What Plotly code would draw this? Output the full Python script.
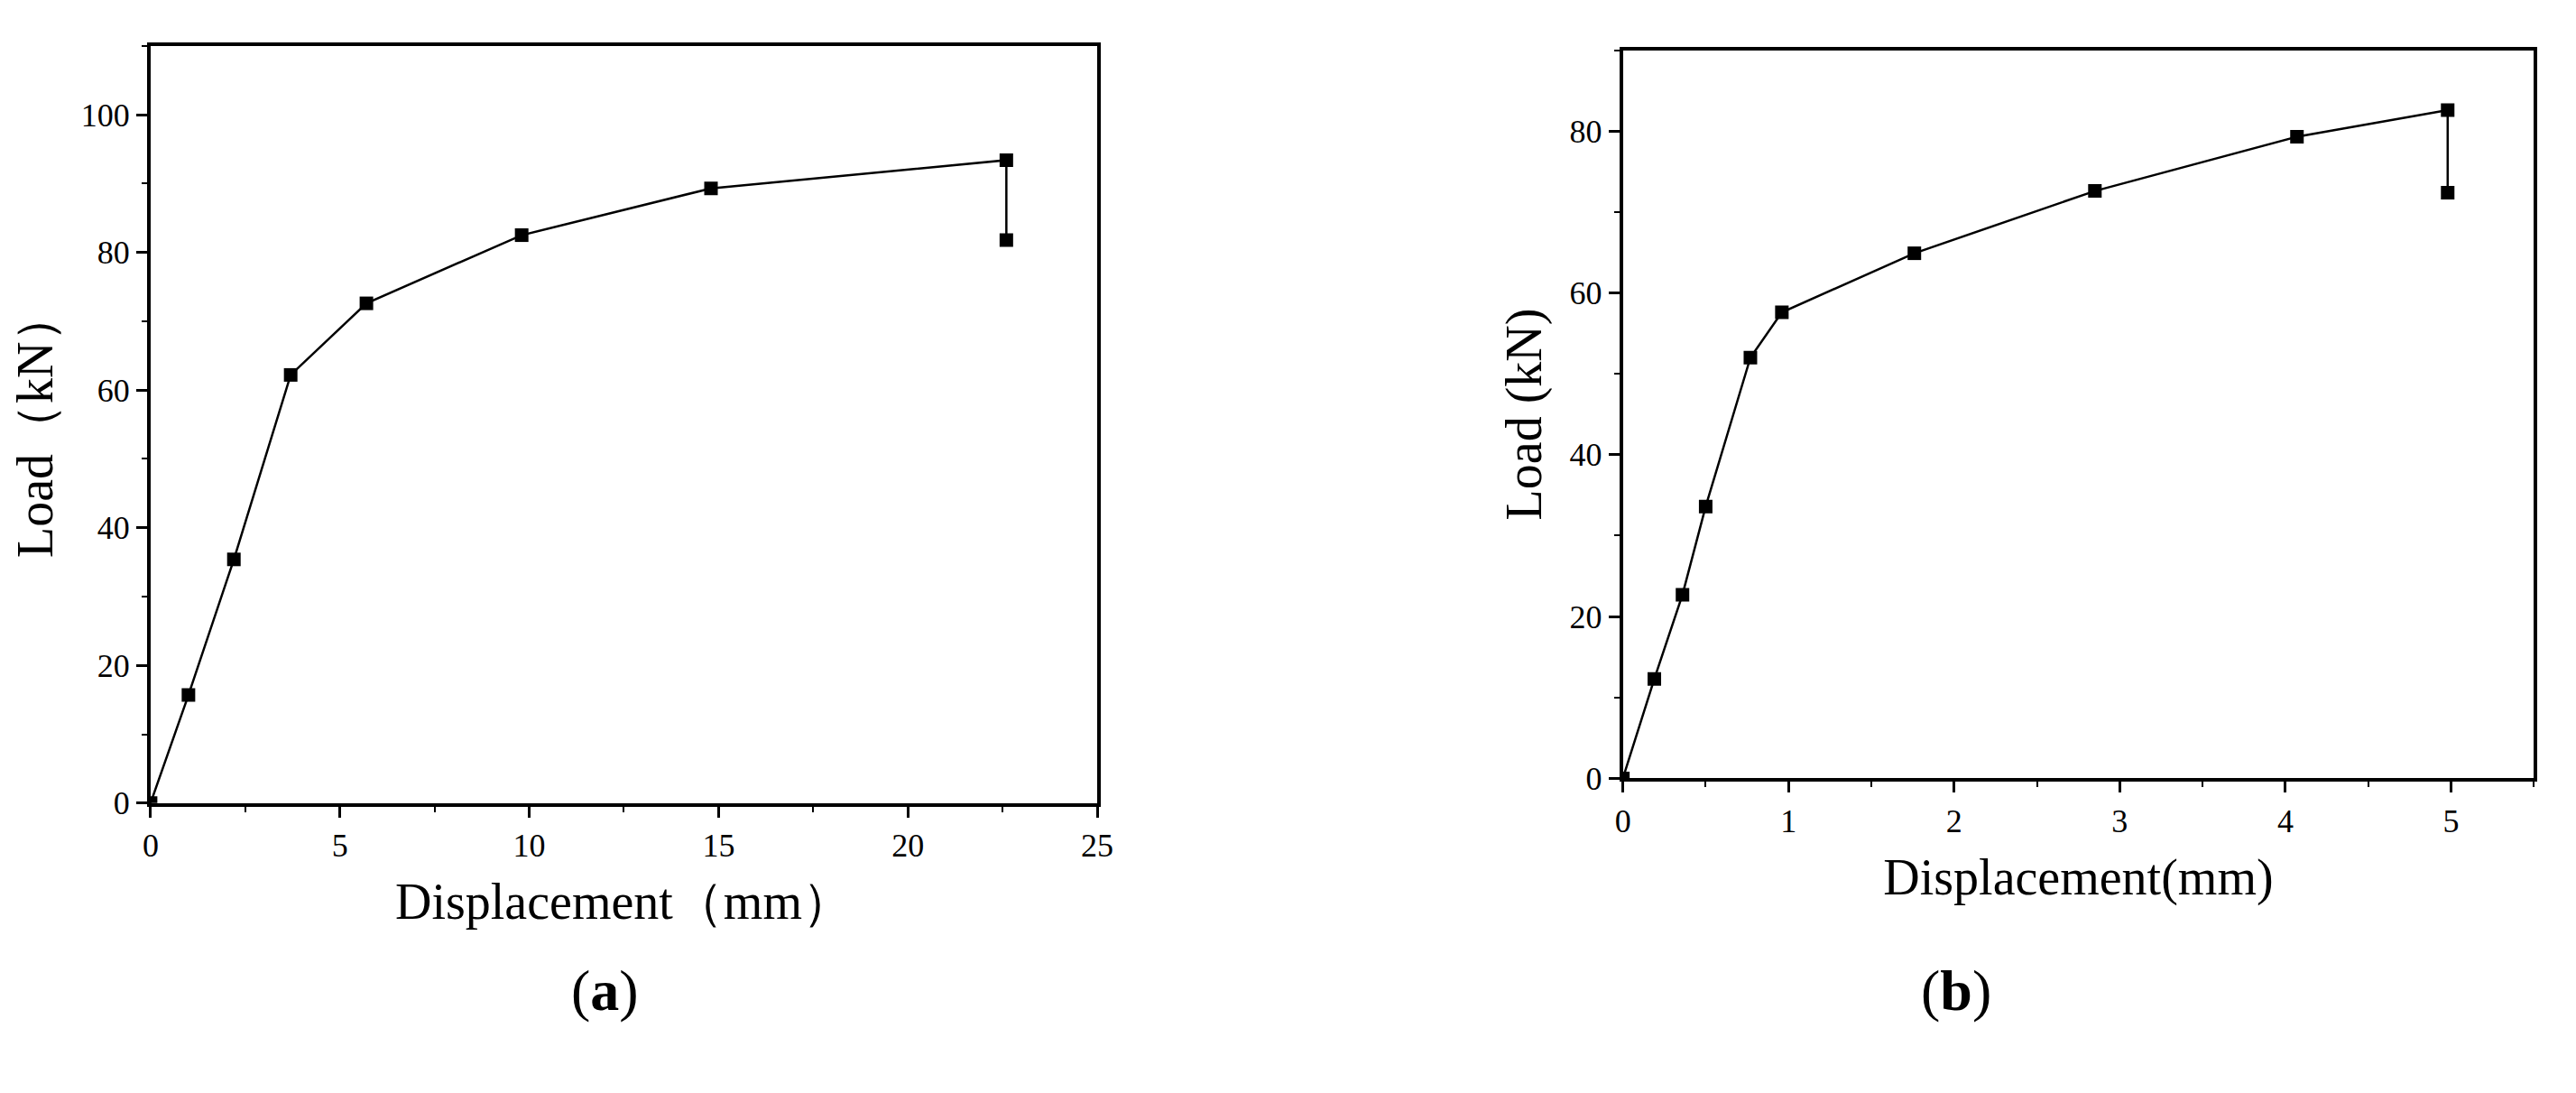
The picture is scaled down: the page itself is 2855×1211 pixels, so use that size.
import plotly.graph_objects as go

# (a) load-displacement
disp_a = [0, 1.0, 2.2, 3.7, 5.7, 9.8, 14.8, 22.6, 22.6]
load_a = [0, 15.7, 35.4, 62.2, 72.6, 82.5, 89.3, 93.4, 81.8]

# (b) load-displacement
disp_b = [0, 0.19, 0.36, 0.50, 0.77, 0.96, 1.76, 2.85, 4.07, 4.98, 4.98]
load_b = [0, 12.3, 22.7, 33.6, 52.0, 57.6, 64.9, 72.6, 79.3, 82.6, 72.4]

FONT = "Liberation Serif"

fig = go.Figure()
fig.add_trace(go.Scatter(x=disp_a, y=load_a, mode="lines+markers", xaxis="x", yaxis="y",
                         line=dict(color="black", width=2.5),
                         marker=dict(symbol="square", size=15, color="black")))
fig.add_trace(go.Scatter(x=disp_b, y=load_b, mode="lines+markers", xaxis="x2", yaxis="y2",
                         line=dict(color="black", width=2.5),
                         marker=dict(symbol="square", size=15, color="black")))

ax = dict(showline=True, linecolor="black", linewidth=4, mirror=True, showgrid=False,
          zeroline=False, ticks="outside", ticklen=12, tickwidth=3, tickcolor="black",
          tickfont=dict(family=FONT, size=36, color="black"))


def axis(**kw):
    d = dict(ax)
    d.update(kw)
    return d


fig.update_layout(
    width=2855, height=1211, margin=dict(l=0, r=0, t=0, b=0),
    paper_bgcolor="white", plot_bgcolor="white", showlegend=False,
    xaxis=axis(domain=[0.053, 0.424], range=[0, 25], dtick=5, anchor="y",
               minor=dict(ticks="outside", dtick=2.5, ticklen=6, tickwidth=2, tickcolor="black"),
               title=dict(text="Displacement（mm）", font=dict(family=FONT, size=56, color="black"), standoff=24)),
    yaxis=axis(domain=[0.259, 0.964], range=[0, 110], dtick=20, anchor="x",
               minor=dict(ticks="outside", dtick=10, ticklen=6, tickwidth=2, tickcolor="black"),
               title=dict(text="Load（kN）", font=dict(family=FONT, size=56, color="black"), standoff=14)),
    xaxis2=axis(domain=[0.630, 0.987], range=[0, 5.5], dtick=1, anchor="y2",
                minor=dict(ticks="outside", dtick=0.5, ticklen=6, tickwidth=2, tickcolor="black"),
                title=dict(text="Displacement(mm)", font=dict(family=FONT, size=56, color="black"), standoff=24)),
    yaxis2=axis(domain=[0.282, 0.960], range=[0, 90], dtick=20, anchor="x2",
                minor=dict(ticks="outside", dtick=10, ticklen=6, tickwidth=2, tickcolor="black"),
                title=dict(text="Load (kN)", font=dict(family=FONT, size=56, color="black"), standoff=14)),
    annotations=[
        dict(text="(<b>a</b>)", x=0.217, y=0.053, xref="paper", yref="paper", showarrow=False,
             font=dict(family=FONT, size=64, color="black")),
        dict(text="(<b>b</b>)", x=0.775, y=0.053, xref="paper", yref="paper", showarrow=False,
             font=dict(family=FONT, size=64, color="black")),
    ],
)

fig.write_html("out.html")
